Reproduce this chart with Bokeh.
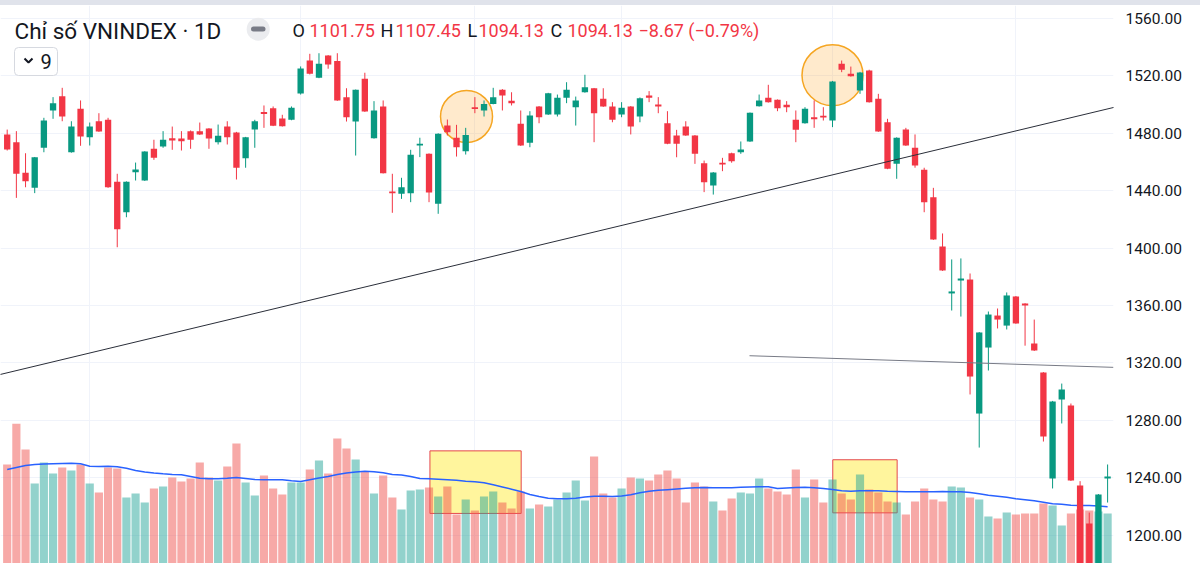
from bokeh.plotting import figure
from bokeh.models import (Range1d, FixedTicker, NumeralTickFormatter, Label, Slope,
                          BoxAnnotation, Div)
from bokeh.layouts import column
from bokeh.embed import file_html
from bokeh.resources import INLINE

# ---------------- data ----------------
opens = [1479.2, 1473.8, 1452.5, 1442.0, 1469.9, 1495.9, 1505.9, 1466.8, 1497.1, 1477.3,
         1488.4, 1489.4, 1446.2, 1425.0, 1452.8, 1447.1, 1469.2, 1470.8, 1476.6, 1476.4,
         1481.5, 1481.5, 1483.3, 1473.8, 1484.7, 1480.6, 1462.6, 1482.6, 1494.8, 1497.5,
         1490.3, 1489.4, 1507.7, 1530.7, 1518.7, 1534.2, 1530.3, 1505.2, 1488.2, 1518.0,
         1476.6, 1498.7, 1439.5, 1437.8, 1438.3, 1471.5, 1465.7, 1430.9, 1485.4, 1476.9,
         1467.5, 1498.2, 1495.9, 1500.5, 1510.3, 1502.6, 1486.6, 1473.4, 1498.7, 1493.1,
         1493.1, 1504.7, 1498.2, 1508.6, 1511.4, 1504.0, 1498.7, 1493.1, 1498.7, 1491.7,
         1506.3, 1500.0, 1487.0, 1478.5, 1484.7, 1478.5, 1459.2, 1443.6, 1459.4, 1466.1,
         1466.8, 1474.3, 1498.9, 1504.7, 1503.3, 1499.9, 1489.4, 1487.0, 1491.2, 1492.2,
         1488.9, 1528.4, 1521.5, 1509.8, 1523.8, 1504.0, 1487.7, 1458.7, 1482.6, 1469.9,
         1454.6, 1435.5, 1401.1, 1368.4, 1377.4, 1378.1, 1284.7, 1330.7, 1353.0, 1346.0,
         1366.3, 1361.4, 1333.5, 1313.3, 1239.4, 1294.5, 1290.3, 1234.6, 1208.0, 1172.0,
         1239.5]
closes = [1468.7, 1451.8, 1446.6, 1463.3, 1488.9, 1501.0, 1491.7, 1484.7, 1477.8, 1484.7,
          1481.2, 1442.4, 1413.2, 1446.2, 1454.7, 1467.3, 1462.9, 1475.5, 1475.0, 1474.5,
          1475.5, 1479.2, 1476.4, 1478.3, 1477.3, 1456.0, 1477.3, 1488.4, 1493.5, 1485.2,
          1485.0, 1497.8, 1525.2, 1521.5, 1528.4, 1527.9, 1502.9, 1491.2, 1510.3, 1495.2,
          1495.9, 1452.2, 1438.3, 1442.4, 1465.0, 1472.8, 1438.7, 1479.6, 1480.8, 1470.3,
          1478.9, 1496.9, 1500.5, 1505.2, 1506.3, 1501.0, 1471.5, 1492.4, 1491.2, 1507.9,
          1504.7, 1510.3, 1502.9, 1512.1, 1494.0, 1498.7, 1489.4, 1497.8, 1484.7, 1504.5,
          1504.7, 1498.7, 1472.7, 1472.7, 1478.5, 1465.7, 1445.9, 1452.7, 1458.3, 1460.6,
          1468.7, 1494.3, 1502.9, 1501.7, 1497.5, 1498.2, 1482.4, 1497.1, 1489.8, 1491.0,
          1516.1, 1524.2, 1519.8, 1522.4, 1501.7, 1481.3, 1455.3, 1476.9, 1471.5, 1457.6,
          1432.0, 1406.0, 1384.4, 1369.8, 1378.8, 1310.5, 1341.2, 1353.7, 1350.2, 1367.0,
          1347.5, 1360.0, 1328.6, 1268.7, 1293.1, 1301.5, 1238.0, 1172.0, 1170.0, 1228.3,
          1240.9]
highs = [1482.6, 1481.5, 1466.1, 1463.5, 1490.8, 1505.2, 1511.7, 1488.4, 1502.9, 1487.5,
         1494.0, 1490.8, 1451.8, 1446.5, 1459.6, 1467.5, 1475.5, 1481.5, 1484.7, 1481.5,
         1482.0, 1487.5, 1483.6, 1486.1, 1488.4, 1481.0, 1477.5, 1489.4, 1499.4, 1498.7,
         1492.9, 1498.7, 1526.6, 1535.4, 1535.8, 1534.5, 1535.8, 1511.4, 1510.5, 1522.2,
         1502.4, 1502.9, 1451.8, 1449.0, 1468.5, 1476.9, 1466.0, 1480.0, 1489.6, 1485.9,
         1483.8, 1505.2, 1502.9, 1511.7, 1510.8, 1508.6, 1495.9, 1495.4, 1499.0, 1508.2,
         1507.0, 1515.6, 1505.6, 1520.8, 1511.6, 1511.4, 1501.7, 1501.7, 1499.0, 1505.0,
         1509.4, 1505.2, 1495.4, 1482.4, 1488.4, 1478.8, 1461.0, 1453.0, 1462.9, 1466.5,
         1474.3, 1494.5, 1507.0, 1513.8, 1503.6, 1502.4, 1495.9, 1498.2, 1502.9, 1498.2,
         1516.5, 1530.7, 1526.5, 1522.8, 1524.3, 1507.5, 1490.1, 1477.2, 1483.8, 1479.2,
         1456.0, 1442.0, 1410.2, 1392.1, 1392.8, 1382.3, 1341.5, 1355.8, 1357.9, 1369.1,
         1366.6, 1361.6, 1350.2, 1313.6, 1293.5, 1305.6, 1291.7, 1237.6, 1215.7, 1228.6,
         1249.2]
lows = [1468.0, 1435.0, 1442.4, 1438.3, 1466.8, 1490.1, 1488.4, 1466.5, 1471.3, 1471.5,
        1481.0, 1442.0, 1400.6, 1421.5, 1447.1, 1446.8, 1461.5, 1469.9, 1468.5, 1468.0,
        1469.2, 1478.8, 1469.2, 1472.2, 1472.2, 1447.8, 1456.0, 1469.9, 1483.8, 1485.0,
        1484.7, 1489.1, 1507.0, 1521.0, 1518.4, 1525.0, 1502.6, 1488.2, 1464.5, 1494.9,
        1476.3, 1452.0, 1424.6, 1434.3, 1432.0, 1463.4, 1432.0, 1423.9, 1478.5, 1463.8,
        1465.2, 1494.0, 1491.7, 1500.2, 1495.9, 1499.4, 1471.2, 1470.3, 1487.0, 1492.8,
        1491.7, 1501.0, 1485.4, 1508.3, 1473.8, 1498.4, 1487.7, 1491.2, 1479.2, 1487.7,
        1501.7, 1494.0, 1472.4, 1463.3, 1478.2, 1458.7, 1439.0, 1437.3, 1453.6, 1459.5,
        1465.7, 1474.0, 1498.6, 1501.4, 1495.4, 1494.7, 1473.8, 1486.7, 1483.8, 1488.9,
        1484.3, 1522.6, 1519.5, 1507.5, 1501.4, 1481.0, 1455.0, 1448.3, 1471.2, 1456.0,
        1425.0, 1405.7, 1384.1, 1356.5, 1352.3, 1298.0, 1261.0, 1314.7, 1344.0, 1343.3,
        1347.2, 1332.0, 1328.3, 1265.2, 1232.5, 1277.8, 1237.7, 1168.0, 1165.0, 1168.0,
        1222.7]
volumes = [594, 838, 684, 480, 606, 540, 576, 558, 594, 480,
           426, 576, 570, 396, 420, 366, 450, 462, 516, 492,
           510, 606, 516, 498, 582, 720, 486, 408, 528, 450,
           414, 486, 486, 564, 618, 540, 750, 690, 624, 552,
           420, 528, 396, 324, 438, 444, 456, 402, 462, 294,
           384, 318, 402, 432, 366, 330, 432, 330, 354, 342,
           384, 426, 498, 378, 642, 420, 396, 450, 516, 510,
           498, 534, 558, 510, 366, 486, 462, 372, 318, 390,
           426, 420, 510, 450, 432, 414, 564, 396, 504, 366,
           504, 420, 384, 534, 444, 426, 372, 366, 294, 372,
           450, 384, 372, 462, 456, 396, 384, 282, 270, 306,
           294, 300, 300, 360, 348, 228, 300, 324, 318, 312,
           300]
volume_ma = [564, 576, 588, 594, 597, 599, 600, 601, 598, 583,
             582, 584, 580, 571, 558, 549, 543, 538, 534, 532,
             522, 511, 509, 508, 511, 516, 510, 504, 502, 502,
             502, 496, 492, 503, 513, 522, 534, 543, 549, 554,
             550, 544, 534, 531, 522, 510, 509, 506, 503, 499,
             494, 490, 484, 472, 459, 446, 432, 414, 402, 391,
             389, 389, 392, 399, 404, 403, 402, 405, 412, 424,
             433, 439, 443, 447, 451, 454, 456, 455, 454, 455,
             458, 459, 460, 460, 450, 453, 456, 457, 454, 450,
             444, 437, 434, 436, 437, 436, 433, 432, 431, 430,
             430, 431, 432, 431, 430, 426, 418, 410, 404, 397,
             389, 383, 376, 368, 359, 355, 350, 348, 348, 345,
             340]
price_ticks = [1200, 1240, 1280, 1320, 1360, 1400, 1440, 1480, 1520, 1560]
month_ticks = [9, 32, 51, 67, 90, 110]

# drawings (bar index / price)
trend_anchor_x = [0, 120]
trend_anchor_y = [1313.1, 1497.0]
flat_line_x = [80.95, 120.64]
flat_line_y = [1325.0, 1316.9]
circle_x = [50.09, 90.0]
circle_y = [1491.7, 1520.5]
circle_d = [52, 61]
rect_left = [46.1, 90.03]
rect_right = [56.05, 97.05]
rect_top = [1258.7, 1252.5]
rect_bottom = [1215.1, 1215.5]

title_text = "Chỉ số VNINDEX · 1D"
ohlc_parts = [("O", "dark"), ("1101.75", "red"), ("H", "dark"), ("1107.45", "red"),
              ("L", "dark"), ("1094.13", "red"), ("C", "dark"), ("1094.13", "red"),
              ("\u22128.67 (\u22120.79%)", "red")]

# ---------------- layout constants ----------------
BAR_PX = 9.17
X0 = -6.7 / BAR_PX
FRAME_W = 1113
X1 = X0 + FRAME_W / BAR_PX


def px2x(px):
    return X0 + px / BAR_PX


def py2y(py):
    return 1560 - (py - 18) / 1.435


Y_BOTTOM = py2y(563)
Y_TOP = py2y(5)
VOL_TOP = 558 * 6

UP = "#089981"
DOWN = "#F23645"
VUP = "#26A69A"
VDOWN = "#EF5350"
FONT = "Roboto"
DARK = "#131722"

n = len(opens)
idx = list(range(n))
up = [c >= o for o, c in zip(opens, closes)]
ccol = [UP if u else DOWN for u in up]
vcol = [VUP if u else VDOWN for u in up]
btop = [max(o, c) for o, c in zip(opens, closes)]
bbot = [min(o, c) for o, c in zip(opens, closes)]

p = figure(width=1200, height=558, x_range=Range1d(X0, X1), y_range=Range1d(Y_BOTTOM, Y_TOP),
           output_backend="svg", toolbar_location=None, x_axis_location=None,
           y_axis_location="right", min_border_left=0, min_border_top=0,
           min_border_bottom=0, min_border_right=87, margin=0)
p.outline_line_color = None
p.background_fill_color = "white"
p.border_fill_color = "white"
p.extra_y_ranges = {"vol": Range1d(0, VOL_TOP)}

ax = p.yaxis[0]
ax.ticker = FixedTicker(ticks=price_ticks)
ax.formatter = NumeralTickFormatter(format="0.00")
ax.axis_line_color = None
ax.major_tick_line_color = None
ax.minor_tick_line_color = None
ax.major_tick_out = 0
ax.major_tick_in = 0
ax.minor_tick_out = 0
ax.major_label_standoff = 12
ax.major_label_text_font = FONT
ax.major_label_text_font_size = "15.5px"
ax.major_label_text_color = DARK

p.ygrid.grid_line_color = "#F0F3FA"
p.xgrid.ticker = FixedTicker(ticks=month_ticks)
p.xgrid.grid_line_color = "#F0F3FA"

# "9" selector box (underlay so its chevron stays visible)
p.add_layout(BoxAnnotation(left=px2x(14), right=px2x(57), top=py2y(47), bottom=py2y(75),
                           fill_color="white", fill_alpha=1, line_color="#D6D9E0",
                           line_alpha=1, line_width=1, border_radius=4, level="underlay"))

# yellow rectangles (behind volume)
p.quad(left=rect_left, right=rect_right, top=rect_top, bottom=rect_bottom,
       fill_color="#FFF59D", line_color="#E5484D", line_width=1)

# volume
p.vbar(x=idx, width=0.89, top=volumes, bottom=0, y_range_name="vol",
       fill_color=vcol, fill_alpha=0.5, line_color=None)
p.line(idx, volume_ma, y_range_name="vol", line_color="#2962FF", line_width=1.5)

# circles
p.scatter(x=circle_x, y=circle_y, size=circle_d, marker="circle",
          fill_color="#FF9800", fill_alpha=0.2, line_color="#F5A623", line_width=1.5)

# candles
p.segment(x0=idx, y0=lows, x1=idx, y1=highs, line_color=ccol, line_width=1)
p.vbar(x=idx, width=0.69, top=btop, bottom=bbot, fill_color=ccol, line_color=None)

# trend lines
grad = (trend_anchor_y[1] - trend_anchor_y[0]) / (trend_anchor_x[1] - trend_anchor_x[0])
icpt = trend_anchor_y[0] - grad * trend_anchor_x[0]
p.add_layout(Slope(gradient=grad, y_intercept=icpt, line_color="#2A2E39", line_width=1))
p.line(flat_line_x, flat_line_y, line_color="#787B86", line_width=1)

# header
TEXT_Y = py2y(30.0)
p.add_layout(Label(x=px2x(14), y=TEXT_Y, text=title_text, text_font=FONT,
                   text_font_size="22.5px", text_color=DARK, text_baseline="middle"))
part_px = [292, 309, 380, 395, 467, 478, 550, 567, 638]
for (txt, kind), px in zip(ohlc_parts, part_px):
    p.add_layout(Label(x=px2x(px), y=TEXT_Y, text=txt, text_font=FONT,
                       text_font_size="18px",
                       text_color=DARK if kind == "dark" else DOWN,
                       text_baseline="middle"))

# pill button
p.scatter(x=[px2x(257.7)], y=[py2y(28.7)], size=23, marker="circle",
          fill_color="#EBECEF", line_color=None)
p.segment(x0=[px2x(253)], y0=[py2y(28.5)], x1=[px2x(262.5)], y1=[py2y(28.5)],
          line_color="#787B86", line_width=5, line_cap="round")

# "9" selector content
p.line([px2x(24), px2x(28), px2x(32)], [py2y(58), py2y(62), py2y(58)],
       line_color=DARK, line_width=2)
p.add_layout(Label(x=px2x(40), y=py2y(61), text="9", text_font=FONT,
                   text_font_size="20px", text_color=DARK, text_baseline="middle"))

band = Div(width=1200, height=5, margin=0, styles={"background-color": "#E0E3EB"})
layout = column(band, p, spacing=0)

open("out.html", "w").write(file_html(layout, INLINE))
